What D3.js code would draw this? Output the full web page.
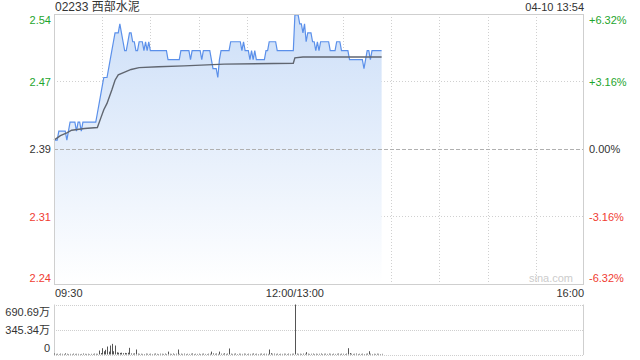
<!DOCTYPE html>
<html>
<head>
<meta charset="utf-8">
<script src="https://cdn.jsdelivr.net/npm/d3@7"></script>
<style>
  body { margin: 0; background: #fff; }
  svg text { font-family: "Liberation Sans", Arial, "Noto Sans CJK SC", sans-serif; }
</style>
</head>
<body>
<div id="container"></div>
<script>
const width = 640;
const height = 360;

const title = '02233 西部水泥';
const stamp = '04-10 13:54';
const prevClose = 2.39;
const pctLimit = 0.0632;

const priceLabels = ['2.54', '2.47', '2.39', '2.31', '2.24'];
const pctLabels = ['+6.32%', '+3.16%', '0.00%', '-3.16%', '-6.32%'];
const pctLevels = [0.0632, 0.0316, 0, -0.0316, -0.0632];
const timeLabels = ['09:30', '12:00/13:00', '16:00'];
const timeMinutes = [0, 150, 330];
const volLabels = ['690.69万', '345.34万', '0'];
const volMax = 690.69;

// one value per trading minute from 09:30
const prices = [
    2.40, 2.40, 2.40, 2.41, 2.41, 2.41, 2.41, 2.41, 2.40, 2.41,
    2.42, 2.42, 2.42, 2.42, 2.41, 2.42, 2.42, 2.41, 2.42, 2.42,
    2.42, 2.42, 2.42, 2.42, 2.42, 2.42, 2.42, 2.43, 2.44, 2.45,
    2.46, 2.47, 2.47, 2.47, 2.48, 2.49, 2.50, 2.51, 2.52, 2.52,
    2.52, 2.53, 2.52, 2.51, 2.50, 2.50, 2.51, 2.52, 2.52, 2.51,
    2.51, 2.50, 2.50, 2.51, 2.51, 2.51, 2.50, 2.51, 2.50, 2.51,
    2.50, 2.50, 2.50, 2.50, 2.50, 2.50, 2.50, 2.50, 2.50, 2.50,
    2.50, 2.49, 2.49, 2.49, 2.49, 2.49, 2.49, 2.49, 2.49, 2.50,
    2.50, 2.50, 2.50, 2.50, 2.50, 2.49, 2.50, 2.50, 2.50, 2.50,
    2.50, 2.50, 2.49, 2.50, 2.50, 2.50, 2.50, 2.50, 2.49, 2.48,
    2.48, 2.48, 2.47, 2.49, 2.50, 2.50, 2.50, 2.50, 2.50, 2.50,
    2.51, 2.51, 2.51, 2.51, 2.51, 2.51, 2.51, 2.50, 2.51, 2.50,
    2.50, 2.50, 2.49, 2.50, 2.49, 2.50, 2.49, 2.49, 2.49, 2.49,
    2.49, 2.49, 2.50, 2.50, 2.51, 2.51, 2.51, 2.51, 2.51, 2.50,
    2.50, 2.50, 2.50, 2.50, 2.50, 2.50, 2.50, 2.50, 2.50, 2.50,
    2.54, 2.54, 2.54, 2.53, 2.53, 2.52, 2.53, 2.51, 2.52, 2.52,
    2.52, 2.51, 2.51, 2.50, 2.51, 2.50, 2.51, 2.51, 2.51, 2.51,
    2.51, 2.51, 2.50, 2.50, 2.50, 2.50, 2.51, 2.51, 2.51, 2.50,
    2.50, 2.50, 2.50, 2.50, 2.49, 2.49, 2.49, 2.49, 2.49, 2.49,
    2.49, 2.49, 2.49, 2.48, 2.49, 2.50, 2.50, 2.49, 2.50, 2.50,
    2.50, 2.50, 2.50, 2.50, 2.50
];

// average price line, read at a few minutes
const avgMinutes = [0, 4, 8, 11, 19, 27, 29, 31, 33, 36, 38, 40, 44, 48, 53, 65, 81, 106, 149, 150, 155, 204];
const avgValues = [2.400, 2.405, 2.408, 2.411, 2.413, 2.414, 2.424, 2.434, 2.441, 2.456, 2.467, 2.473,
    2.476, 2.479, 2.481, 2.482, 2.483, 2.485, 2.486, 2.492, 2.493, 2.493];

// volume per minute, 万
const volumes = [
    14, 8, 10, 6, 12, 9, 7, 16, 10, 7,
    9, 6, 12, 8, 10, 9, 6, 8, 13, 9,
    8, 10, 6, 9, 8, 12, 10, 9, 55, 20,
    87, 45, 65, 110, 40, 124, 147, 45, 124, 30,
    25, 22, 25, 18, 22, 18, 25, 92, 14, 12,
    15, 69, 12, 9, 10, 8, 7, 12, 10, 8,
    11, 7, 10, 13, 9, 7, 11, 10, 8, 12,
    7, 40, 10, 8, 13, 7, 11, 69, 9, 11,
    8, 12, 7, 10, 8, 11, 14, 7, 10, 8,
    11, 7, 10, 12, 8, 7, 11, 10, 40, 15,
    10, 13, 8, 40, 11, 10, 16, 8, 12, 83,
    11, 8, 10, 13, 7, 11, 10, 8, 12, 10,
    7, 11, 8, 10, 14, 8, 11, 7, 10, 12,
    8, 11, 10, 8, 69, 18, 10, 12, 8, 11,
    7, 10, 8, 11, 10, 7, 12, 8, 10, 11,
    690.69, 12, 9, 11, 8, 12, 10, 32, 11, 8,
    10, 12, 7, 11, 8, 10, 13, 7, 10, 11,
    8, 12, 10, 7, 11, 8, 10, 13, 8, 11,
    10, 7, 12, 87, 20, 11, 8, 10, 13, 7,
    10, 8, 11, 7, 10, 12, 45, 11, 7, 10,
    8, 11, 10, 7, 9
];

const plot = { left: 54, right: 584, top: 14, bottom: 284 };
const volPlot = { top: 304.5, bottom: 354.5 };
const green = '#1ea52e';
const red = '#f03c32';
const dark = '#333';

const svg = d3.select('#container').append('svg')
    .attr('width', width)
    .attr('height', height);

const x = d3.scaleLinear().domain([0, 330]).range([plot.left, plot.right]);
const y = d3.scaleLinear()
    .domain([prevClose * (1 - pctLimit), prevClose * (1 + pctLimit)])
    .range([plot.bottom, plot.top]);
const yv = d3.scaleLinear().domain([0, volMax]).range([volPlot.bottom, volPlot.top]);

const defs = svg.append('defs');
const grad = defs.append('linearGradient')
    .attr('id', 'fillGrad')
    .attr('gradientUnits', 'userSpaceOnUse')
    .attr('x1', 0).attr('x2', 0)
    .attr('y1', plot.top).attr('y2', plot.bottom);
grad.append('stop').attr('offset', '0%').attr('stop-color', '#cddff8');
grad.append('stop').attr('offset', '100%').attr('stop-color', '#ffffff');

// vertical grid
svg.append('g')
    .selectAll('line')
    .data(d3.range(30, 330, 30))
    .join('line')
    .attr('x1', d => Math.round(x(d)) + 0.5)
    .attr('x2', d => Math.round(x(d)) + 0.5)
    .attr('y1', plot.top)
    .attr('y2', plot.bottom)
    .attr('stroke', '#d0d0d0')
    .attr('stroke-dasharray', '1,2');

// horizontal grid
svg.append('g')
    .selectAll('line')
    .data([0.0316, -0.0316])
    .join('line')
    .attr('x1', plot.left)
    .attr('x2', plot.right)
    .attr('y1', d => Math.round(y(prevClose * (1 + d))) + 0.5)
    .attr('y2', d => Math.round(y(prevClose * (1 + d))) + 0.5)
    .attr('stroke', '#d0d0d0')
    .attr('stroke-dasharray', '1,2');

// area + lines
const area = d3.area()
    .x((d, i) => x(i))
    .y0(plot.bottom)
    .y1(d => y(d));
svg.append('path')
    .datum(prices)
    .attr('d', area)
    .attr('fill', 'url(#fillGrad)');

svg.append('line')
    .attr('x1', plot.left)
    .attr('x2', plot.right)
    .attr('y1', Math.round(y(prevClose)) + 0.5)
    .attr('y2', Math.round(y(prevClose)) + 0.5)
    .attr('stroke', '#b0b0b0')
    .attr('stroke-dasharray', '4,2');

const line = d3.line()
    .x((d, i) => x(i))
    .y(d => y(d));
svg.append('path')
    .datum(prices)
    .attr('d', line)
    .attr('fill', 'none')
    .attr('stroke', '#5b90ea')
    .attr('stroke-width', 1.2);

const avgLine = d3.line()
    .x(d => x(d[0]))
    .y(d => y(d[1]));
svg.append('path')
    .datum(avgMinutes.map((m, i) => [m, avgValues[i]]))
    .attr('d', avgLine)
    .attr('fill', 'none')
    .attr('stroke', '#606670')
    .attr('stroke-width', 1.4);

// frame
svg.append('rect')
    .attr('x', plot.left + 0.5)
    .attr('y', plot.top + 0.5)
    .attr('width', plot.right - plot.left - 1)
    .attr('height', plot.bottom - plot.top)
    .attr('fill', 'none')
    .attr('stroke', '#cfcfcf');

// left price labels and right percentage labels
const labelY = (i) => {
    const ly = y(prevClose * (1 + pctLevels[i]));
    if (i === 0) return ly + 10;
    if (i === pctLevels.length - 1) return ly - 2;
    return ly + 4;
};
const labelColor = (i) => pctLevels[i] > 0 ? green : (pctLevels[i] < 0 ? red : dark);

svg.append('g')
    .selectAll('text')
    .data(priceLabels)
    .join('text')
    .attr('x', plot.left - 3)
    .attr('y', (d, i) => labelY(i))
    .attr('text-anchor', 'end')
    .attr('font-size', 11)
    .attr('fill', (d, i) => labelColor(i))
    .text(d => d);

svg.append('g')
    .selectAll('text')
    .data(pctLabels)
    .join('text')
    .attr('x', plot.right + 5)
    .attr('y', (d, i) => labelY(i))
    .attr('font-size', 11)
    .attr('fill', (d, i) => labelColor(i))
    .text(d => d);

// time labels
svg.append('g')
    .selectAll('text')
    .data(timeLabels)
    .join('text')
    .attr('x', (d, i) => x(timeMinutes[i]) + (i === 0 ? 1 : 0))
    .attr('y', 297)
    .attr('text-anchor', (d, i) => i === 0 ? 'start' : (i === 1 ? 'middle' : 'end'))
    .attr('font-size', 11)
    .attr('fill', dark)
    .text(d => d);

// title and time stamp
svg.append('text')
    .attr('x', plot.left + 1)
    .attr('y', 11)
    .attr('font-size', 12)
    .attr('fill', dark)
    .text(title);

svg.append('text')
    .attr('x', plot.right)
    .attr('y', 11)
    .attr('text-anchor', 'end')
    .attr('font-size', 11)
    .attr('fill', dark)
    .text(stamp);

svg.append('text')
    .attr('x', 573)
    .attr('y', 282)
    .attr('text-anchor', 'end')
    .attr('font-size', 11)
    .attr('fill', '#cccccc')
    .text('sina.com');

// volume panel
svg.append('g')
    .selectAll('line')
    .data([volMax, volMax / 2, 0])
    .join('line')
    .attr('x1', plot.left)
    .attr('x2', plot.right)
    .attr('y1', d => Math.round(yv(d)) + 0.5)
    .attr('y2', d => Math.round(yv(d)) + 0.5)
    .attr('stroke', '#cfcfcf')
    .attr('stroke-dasharray', '1,1');

[plot.left + 0.5, plot.right - 0.5].forEach(px => {
    svg.append('line')
        .attr('x1', px).attr('x2', px)
        .attr('y1', volPlot.top).attr('y2', volPlot.bottom + 0.5)
        .attr('stroke', '#cfcfcf');
});

svg.append('g')
    .selectAll('rect')
    .data(volumes)
    .join('rect')
    .attr('x', (d, i) => Math.round(x(i)))
    .attr('y', d => yv(d))
    .attr('width', 1)
    .attr('height', d => yv(0) - yv(d))
    .attr('fill', '#555');

svg.append('g')
    .selectAll('text')
    .data(volLabels)
    .join('text')
    .attr('x', plot.left - 4)
    .attr('y', (d, i) => [316, 334, 352][i])
    .attr('text-anchor', 'end')
    .attr('font-size', 11)
    .attr('fill', dark)
    .text(d => d);
</script>
</body>
</html>
